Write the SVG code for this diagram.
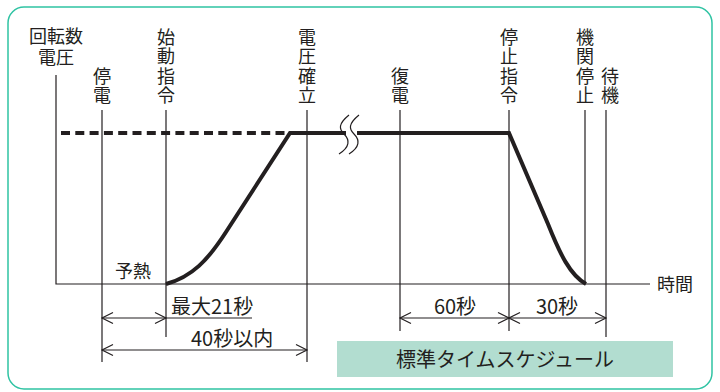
<svg xmlns="http://www.w3.org/2000/svg" width="720" height="392" viewBox="0 0 720 392">
<style>
.t{font-family:"Noto Sans CJK JP","Noto Sans",sans-serif;fill:#231f20;font-size:18px}
.c{text-anchor:middle}
.d{font-size:20px}
.ln{stroke:#231f20;stroke-width:1.2;fill:none}
.thick{stroke:#231f20;stroke-width:4;fill:none}
.ah{stroke:#231f20;stroke-width:1.2;fill:none}
</style>
<rect x="8" y="7" width="704" height="382" rx="16" fill="#fff" stroke="#2fc3a3" stroke-width="1.5"/>
<g id="axes">
<path class="ln" d="M56,75 V284 H650"/>
</g>
<g id="labels">
<text class="t c" x="56" y="43">回転数</text>
<text class="t c" x="56" y="63.5">電圧</text>
<text class="t" x="657" y="291">時間</text>
<text class="t c" x="133" y="278">予熱</text>
</g>
<g id="teiden"><path class="ln" d="M102,110 V362"/><text class="t c"><tspan x="102" y="82.5">停</tspan><tspan x="102" y="102">電</tspan></text></g>
<g id="shidou"><path class="ln" d="M166,110 V337"/><text class="t c"><tspan x="166" y="43.5">始</tspan><tspan x="166" y="63">動</tspan><tspan x="166" y="82.5">指</tspan><tspan x="166" y="102">令</tspan></text></g>
<g id="denatsu"><path class="ln" d="M307,110 V362"/><text class="t c"><tspan x="307" y="43.5">電</tspan><tspan x="307" y="63">圧</tspan><tspan x="307" y="82.5">確</tspan><tspan x="307" y="102">立</tspan></text></g>
<g id="fukuden"><path class="ln" d="M400,110 V331"/><text class="t c"><tspan x="400" y="82.5">復</tspan><tspan x="400" y="102">電</tspan></text></g>
<g id="teishi"><path class="ln" d="M509,110 V331"/><text class="t c"><tspan x="509" y="43.5">停</tspan><tspan x="509" y="63">止</tspan><tspan x="509" y="82.5">指</tspan><tspan x="509" y="102">令</tspan></text></g>
<g id="kikan"><path class="ln" d="M585,110 V284"/><text class="t c"><tspan x="585" y="43.5">機</tspan><tspan x="585" y="63">関</tspan><tspan x="585" y="82.5">停</tspan><tspan x="585" y="102">止</tspan></text></g>
<g id="taiki"><path class="ln" d="M606,110 V337"/><text class="t c"><tspan x="610" y="82.5">待</tspan><tspan x="610" y="102">機</tspan></text></g>
<g id="curve">
<path class="thick" d="M61,133 H290" stroke-dasharray="9,5.3"/>
<path class="thick" d="M166,284 C192,277 208,260 226,232 L290,133 H346"/>
<path class="thick" d="M357,133 H509 L548,224 C560,254 570,275 586,284"/>
<path class="ln" d="M349,115 C338,124 339,129 344,134 C350,140 350,147 339,154"/>
<path class="ln" d="M359,115 C348,124 349,129 354,134 C360,140 360,147 349,154"/>
</g>
<g id="connectors">
<path class="ln" d="M102,318 H252"/>
<path class="ah" d="M113,312.5 L102,318 L113,323.5 M155,312.5 L166,318 L155,323.5"/>
<path class="ln" d="M102,350 H307"/>
<path class="ah" d="M113,344.5 L102,350 L113,355.5 M296,344.5 L307,350 L296,355.5"/>
<path class="ln" d="M400,318 H606"/>
<path class="ah" d="M411,312.5 L400,318 L411,323.5 M498,312.5 L509,318 L498,323.5 M520,312.5 L509,318 L520,323.5 M595,312.5 L606,318 L595,323.5"/>
</g>
<g id="dims">
<text class="t d" x="171" y="313.5">最大21秒</text>
<text class="t d" x="191" y="345.5">40秒以内</text>
<text class="t c d" x="455" y="313.5">60秒</text>
<text class="t c d" x="557" y="313.5">30秒</text>
</g>
<g id="title">
<rect x="337" y="341" width="336" height="36" fill="#b2ddd0"/>
<text class="t c" x="505" y="366.5" style="font-size:20px">標準タイムスケジュール</text>
</g>
</svg>
